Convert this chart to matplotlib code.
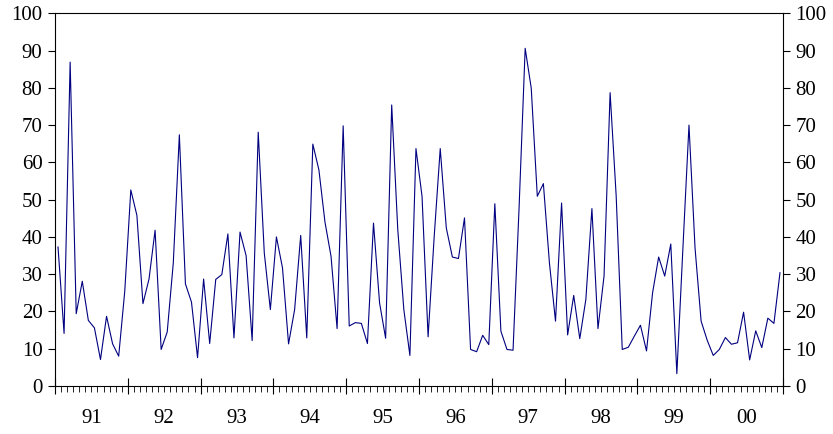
'''
Monthly series 1991-2000, redrawn as a line chart
with the same scale on both sides.
'''
# Import necessary libraries
import numpy as np
import matplotlib
matplotlib.use("Agg")
import matplotlib.pyplot as plt
from matplotlib.ticker import MultipleLocator

# Data (one value per month, Jan 91 - Dec 00)
values = [37.3, 14.1, 86.9, 19.4, 28.1, 17.6, 15.6, 7.1, 18.7, 11.3, 8.0, 25.4,
          52.6, 45.8, 22.1, 28.7, 41.8, 9.8, 14.5, 33.0, 67.4, 27.4, 22.5, 7.6,
          28.7, 11.4, 28.6, 29.9, 40.8, 12.9, 41.3, 35.0, 12.2, 68.1, 35.7, 20.5,
          40.0, 31.7, 11.3, 20.5, 40.4, 12.9, 64.9, 58.0, 44.0, 34.8, 15.4, 69.8,
          16.1, 17.0, 16.8, 11.4, 43.7, 22.3, 12.8, 75.4, 42.0, 20.5, 8.2, 63.7,
          50.9, 13.2, 40.0, 63.7, 42.4, 34.6, 34.2, 45.1, 9.8, 9.2, 13.6, 11.1,
          48.9, 14.7, 9.8, 9.6, 48.0, 90.6, 79.9, 50.9, 54.3, 33.0, 17.4, 49.1,
          13.7, 24.3, 12.7, 23.2, 47.6, 15.4, 29.5, 78.7, 51.0, 9.8, 10.4, 13.4,
          16.3, 9.4, 25.0, 34.6, 29.5, 38.1, 3.3, 37.0, 70.0, 37.0, 17.4, 12.3,
          8.2, 9.8, 13.0, 11.2, 11.6, 19.8, 7.0, 14.8, 10.3, 18.2, 16.8, 30.4]
year_labels = ["91", "92", "93", "94", "95", "96", "97", "98", "99", "00"]
y_ticks = [0, 10, 20, 30, 40, 50, 60, 70, 80, 90, 100]

plt.rcParams['font.family'] = ['Liberation Serif', 'DejaVu Serif']
n_months = len(values)
months = np.arange(n_months) + 0.5  # points sit in the middle of each month

fig = plt.figure(figsize=(8.33, 4.34), dpi=100)
ax = fig.add_axes([0.066, 0.1106, 0.874, 0.8588])
ax.plot(months, values, color="#000080", linewidth=0.8)

ax.set_xlim(0, n_months)
ax.set_ylim(0, 100)
ax.set_yticks(y_ticks)
ax.tick_params(axis="y", which="both", direction="out", length=5, width=0.8,
               labelsize=15, pad=4, left=True, right=True,
               labelleft=True, labelright=True)

# Year ticks cross the axis, month ticks point down
ax.xaxis.set_major_locator(MultipleLocator(12))
ax.xaxis.set_minor_locator(MultipleLocator(1))
ax.tick_params(axis="x", which="major", direction="inout", length=12, width=0.8,
               labelbottom=False)
ax.tick_params(axis="x", which="minor", direction="out", length=4, width=0.6)

# Year labels in the middle of each year
for k, lab in enumerate(year_labels):
    ax.text(12 * k + 6, -0.088, lab, transform=ax.get_xaxis_transform(),
            ha="center", va="center", fontsize=15)

for s in ax.spines.values():
    s.set_linewidth(0.8)

plt.savefig("out.png", dpi=100)
